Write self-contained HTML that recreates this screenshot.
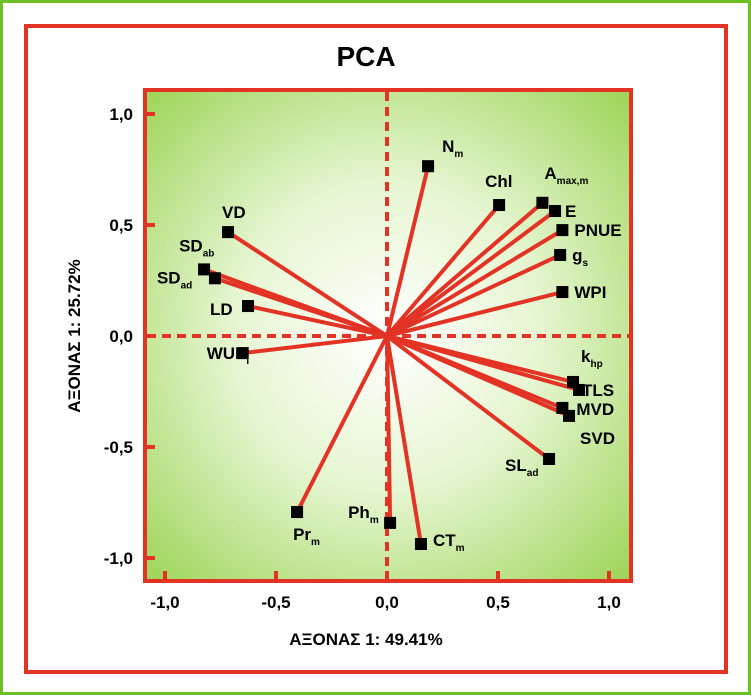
<!DOCTYPE html>
<html><head><meta charset="utf-8"><style>
html,body{margin:0;padding:0;background:#fff}
svg{display:block;font-family:"Liberation Sans",Arial,sans-serif;font-weight:bold}
</style></head><body>
<svg id="chart" width="751" height="695" viewBox="0 0 751 695" xmlns="http://www.w3.org/2000/svg">
<defs>
<radialGradient id="bg" cx="387" cy="336" r="340" gradientUnits="userSpaceOnUse">
<stop offset="0" stop-color="#ffffff"/><stop offset="0.45" stop-color="#e6f6d2"/><stop offset="1" stop-color="#9fd55a"/>
</radialGradient>
</defs>
<rect x="1.5" y="1.5" width="748" height="692" fill="#fff" stroke="#6cc024" stroke-width="3"/>
<rect x="26" y="26" width="700" height="646" fill="#fff" stroke="#e23325" stroke-width="4"/>
<text x="366" y="66" font-size="28" text-anchor="middle">PCA</text>
<rect x="145" y="90" width="486" height="491" fill="url(#bg)" stroke="#e23325" stroke-width="4"/>
<g id="axes"></g>
<g id="marks"></g>
<text x="366" y="645" font-size="17" text-anchor="middle">ΑΞΟΝΑΣ 1: 49.41%</text>
<text transform="translate(80,336) rotate(-90)" font-size="17" text-anchor="middle">ΑΞΟΝΑΣ 1: 25.72%</text>
</svg>
<script>
const names=["Nm","Chl","Amax","E","PNUE","gs","WPI","VD","SDab","SDad","LD","WUEi","khp","TLS","MVD","SVD","SLad","CTm","Phm","Prm"];
const pc1=[0.185,0.505,0.70,0.757,0.79,0.78,0.79,-0.716,-0.824,-0.775,-0.626,-0.65,0.838,0.865,0.79,0.82,0.73,0.153,0.014,-0.405];
const pc2=[0.765,0.59,0.60,0.563,0.477,0.365,0.198,0.468,0.30,0.26,0.135,-0.077,-0.207,-0.243,-0.324,-0.36,-0.554,-0.937,-0.842,-0.793];
const labelMain=["N","Chl","A","E","PNUE","g","WPI","VD","SD","SD","LD","WUE","k","TLS","MVD","SVD","SL","CT","Ph","Pr"];
const labelSub=["m","","max,m","","","s","","","ab","ad","","i","hp","","","","ad","m","m","m"];
const ticks=[-1,-0.5,0,0.5,1];
const tickLabels=["-1,0","-0,5","0,0","0,5","1,0"];
// label offsets (dx,dy) relative to marker, anchor
const lOff=[[14,-14,"start"],[-14,-18,"start"],[2,-24,"start"],[10,6,"start"],[12,6,"start"],[12,6,"start"],[12,6,"start"],[-6,-14,"start"],[-25,-18,"start"],[-58,5,"start"],[-38,9,"start"],[-36,6,"start"],[8,-20,"start"],[3,6,"start"],[14,7,"start"],[11,28,"start"],[-44,12,"start"],[12,2,"start"],[-42,-5,"start"],[-4,28,"start"]];
const sx=v=>387+v*222, sy=v=>336-v*222;
const NS="http://www.w3.org/2000/svg";
const ax=document.getElementById('axes'), mk=document.getElementById('marks');
function mkEl(t,a){const e=document.createElementNS(NS,t);for(const k in a)e.setAttribute(k,a[k]);return e;}
let l=mkEl('line',{x1:147,x2:629,y1:sy(0),y2:sy(0),stroke:'#e23325','stroke-width':4,'stroke-dasharray':'9,6'});


ax.appendChild(l);
l=mkEl('line',{x1:sx(0),x2:sx(0),y1:92,y2:579,stroke:'#e23325','stroke-width':4,'stroke-dasharray':'9,6'});


ax.appendChild(l);
ticks.forEach((t,i)=>{
 let a=mkEl('line',{x1:sx(t),x2:sx(t),y1:579,y2:571,stroke:'#e23325','stroke-width':4});
 
 
 ax.appendChild(a);
 let b=mkEl('line',{x1:147,x2:155,y1:sy(t),y2:sy(t),stroke:'#e23325','stroke-width':4});
 
 
 ax.appendChild(b);
 let tx=mkEl('text',{x:sx(t),y:608,'font-size':17,'text-anchor':'middle'});tx.textContent=tickLabels[i];
 
 
 ax.appendChild(tx);
 let ty=mkEl('text',{x:133,y:sy(t)+6,'font-size':17,'text-anchor':'end'});ty.textContent=tickLabels[i];
 
 
 ax.appendChild(ty);
});
names.forEach((n,i)=>{
 const x=sx(pc1[i]),y=sy(pc2[i]);
 const ln=mkEl('line',{x1:sx(0),y1:sy(0),x2:x,y2:y,stroke:'#e23325','stroke-width':4});
 
 
 mk.appendChild(ln);
});
names.forEach((n,i)=>{
 const x=sx(pc1[i]),y=sy(pc2[i]);
 const r=mkEl('rect',{x:x-6,y:y-6,width:12,height:12,fill:'#000'});
 
 
 mk.appendChild(r);
 const o=lOff[i];
 const t=mkEl('text',{x:x+o[0],y:y+o[1],'font-size':17,'text-anchor':o[2]});
 t.appendChild(document.createTextNode(labelMain[i]));
 if(labelSub[i]){const s=mkEl('tspan',{'font-size':10,dy:5});s.textContent=labelSub[i];t.appendChild(s);}
 
 
 mk.appendChild(t);
});
</script>
</body></html>
